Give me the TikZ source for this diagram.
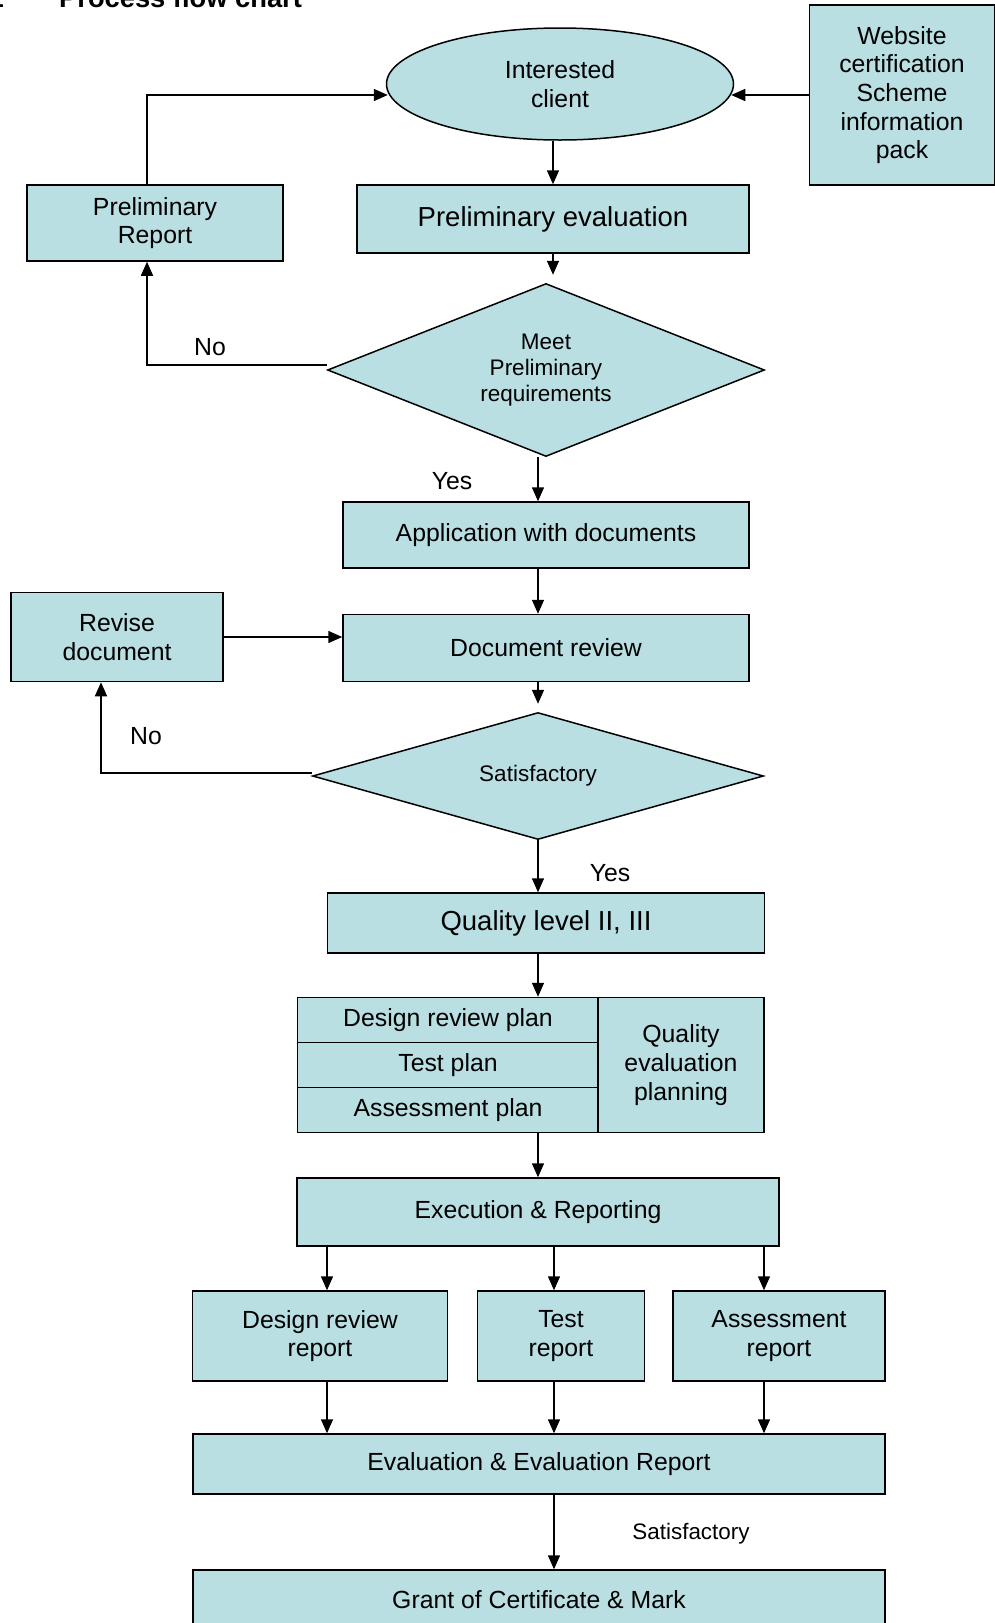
\documentclass[tikz,border=0pt]{standalone}
\usepackage{fontspec}
\setmainfont{Liberation Sans}
\usetikzlibrary{arrows.meta, shapes.geometric, positioning}
\definecolor{boxfill}{RGB}{185,223,227}

\begin{document}
\begin{tikzpicture}[x=1pt, y=-1pt,
    box/.style={draw, line width=1.5pt, fill=boxfill, inner sep=0pt, align=center,
        font=\fontsize{24.8}{28.7}\selectfont},
    bigbox/.style={box, font=\fontsize{27.5}{31}\selectfont},
    terminal/.style={box, ellipse},
    decision/.style={box, diamond, font=\fontsize{22.5}{26}\selectfont},
    arr/.style={line width=1.5pt, -{Triangle[length=14pt,width=12pt]}},
    lbl/.style={inner sep=0pt, font=\fontsize{24.8}{28.7}\selectfont}]
    \useasboundingbox (0,0) rectangle (995,1623);

    % title (cut at the top edge)
    \node[anchor=base east, inner sep=0pt, font=\bfseries\fontsize{27.3}{31}\selectfont] (num) at (4,7) {1};
    \node[anchor=base west, inner sep=0pt, font=\bfseries\fontsize{27.3}{31}\selectfont] (title) at (59,7) {Process flow chart};

    % columns used by the connectors
    \coordinate (col) at (538,0);
    \coordinate (xa) at (327,0);
    \coordinate (xb) at (554,0);
    \coordinate (xc) at (764,0);

    \node[terminal, minimum width=347pt, minimum height=112pt] (client) at (560,84) {Interested\\client};
    \node[box, minimum width=185pt, minimum height=180pt] (web) at (902,95) {Website\\certification\\Scheme\\information\\pack};
    \node[box, minimum width=256pt, minimum height=76pt] (prep) at (155,223) {Preliminary\\Report};
    \node[bigbox, minimum width=392pt, minimum height=68pt] (peval) at (553,219) {Preliminary evaluation};
    \node[decision, aspect=2.5, minimum width=437pt, minimum height=173pt] (meet) at (546,370) {Meet\\Preliminary\\requirements};
    \node[box, minimum width=406pt, minimum height=66pt] (app) at (546,535) {Application with documents};
    \node[box, minimum width=406pt, minimum height=67pt] (docr) at (546,648) {Document review};
    \node[box, minimum width=212pt, minimum height=89pt] (revise) at (117,637) {Revise\\document};
    \node[decision, aspect=3.5, minimum width=451pt, minimum height=127pt] (sat) at (538,776) {Satisfactory};
    \node[bigbox, minimum width=437pt, minimum height=60pt] (qual) at (546,923) {Quality level II, III};
    \node[box, minimum width=301pt, minimum height=45pt] (drp) at (448,1020) {Design review plan};
    \node[box, minimum width=301pt, minimum height=45pt] (tp) at (448,1065) {Test plan};
    \node[box, minimum width=301pt, minimum height=45pt] (ap) at (448,1110) {Assessment plan};
    \node[box, minimum width=166pt, minimum height=135pt] (qep) at (681,1065) {Quality\\evaluation\\planning};
    \node[box, minimum width=482pt, minimum height=68pt] (exec) at (538,1212) {Execution \& Reporting};
    \node[box, minimum width=255pt, minimum height=90pt] (drr) at (320,1336) {Design review\\report};
    \node[box, minimum width=167pt, minimum height=90pt] (trep) at (561,1336) {Test\\report};
    \node[box, minimum width=212pt, minimum height=90pt] (arep) at (779,1336) {Assessment\\report};
    \node[box, minimum width=692pt, minimum height=60pt] (evr) at (539,1464) {Evaluation \& Evaluation Report};
    \node[box, minimum width=692pt, minimum height=60pt] (grant) at (539,1600) {Grant of Certificate \& Mark};

    % labels
    \node[lbl] (no1) at (210,347) {No};
    \node[lbl] (yes1) at (452,481) {Yes};
    \node[lbl] (no2) at (146,736) {No};
    \node[lbl] (yes2) at (610,873) {Yes};
    \node[lbl, font=\fontsize{22.4}{26}\selectfont] (sat2) at (691,1534) {Satisfactory};

    % connectors
    \draw[arr] (peval.north |- client.south) -- (peval.north);
    \draw[arr] (web.west) -- ([xshift=-3pt]web.west -| client.east);
    \draw[arr] ([xshift=-8pt]prep.north) |- ([xshift=2pt,yshift=-11pt]client.west);
    \draw[arr] (peval.south) -- ([yshift=8pt]peval.south |- meet.north);
    \draw[arr] ([yshift=5pt]meet.west) -| ([xshift=-8pt]prep.south);
    \draw[arr] (meet.south -| col) -- (app.north -| col);
    \draw[arr] (app.south -| col) -- (docr.north -| col);
    \draw[arr] (revise.east) -- (revise.east -| docr.west);
    \draw[arr] (docr.south -| col) -- ([yshift=8pt]sat.north -| col);
    \draw[arr] ([yshift=3pt]sat.west) -| ([xshift=-16pt]revise.south);
    \draw[arr] (sat.south -| col) -- (qual.north -| col);
    \draw[arr] (qual.south -| col) -- (drp.north -| col);
    \draw[arr] (ap.south -| col) -- (exec.north -| col);
    \draw[arr] (exec.south -| xa) -- (drr.north -| xa);
    \draw[arr] (exec.south -| xb) -- (trep.north -| xb);
    \draw[arr] (exec.south -| xc) -- (arep.north -| xc);
    \draw[arr] (drr.south -| xa) -- (evr.north -| xa);
    \draw[arr] (trep.south -| xb) -- (evr.north -| xb);
    \draw[arr] (arep.south -| xc) -- (evr.north -| xc);
    \draw[arr] (evr.south -| xb) -- (grant.north -| xb);
\end{tikzpicture}
\end{document}
